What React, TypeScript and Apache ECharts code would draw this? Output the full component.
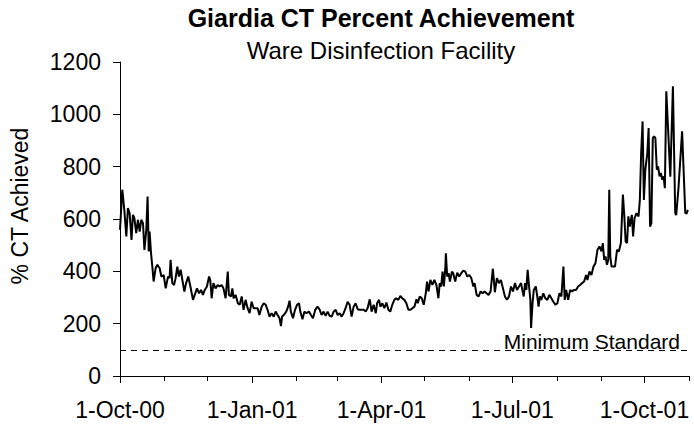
import React, { useEffect, useRef } from "react";
import * as echarts from "echarts";

// Days since 1-Oct-00 and % CT achieved
const dayOffsets = [
  0, 1.6, 3, 4.4, 5.5, 6.7, 8, 9, 10, 11.3, 12.5, 13.7, 14.8, 16, 17, 18.3, 19.2, 20, 20.6, 21.6,
  22.5, 23.4, 24.8, 26, 27.6, 28.8, 30.4, 31.8, 33.4, 34.5, 35.2, 36.4, 37.6, 38.7, 39.9, 41, 42.2, 43.4, 44.8, 46,
  47.5, 49, 50.8, 52, 53.6, 55, 56.4, 57.7, 59, 60.5, 62, 62.8, 63.8, 65, 66.5, 68, 69.3, 70.7, 72, 73.5,
  75, 75.8, 77.2, 78.2, 79, 80.5, 82, 83.3, 84.7, 86, 87.4, 88.8, 90.2, 91.6, 93, 94.4, 95.8, 97, 98.6, 100,
  101.4, 102.7, 104, 105.5, 107, 108.3, 109.7, 111, 112, 112.8, 114, 115.7, 117, 118, 118.9, 120.4, 121.8, 123.2, 124.6, 125.5,
  127, 128.3, 129.7, 131.5, 132.9, 134.3, 135.9, 137.5, 139, 140.3, 141.7, 143.1, 144.5, 145.9, 147.3, 148.7, 150.1, 151.5, 152.8, 154.3,
  155.6, 157, 158.4, 159.8, 161.2, 162.6, 164, 165.4, 166.8, 168.2, 169.6, 171, 172.3, 173.8, 175.1, 176.5, 178, 178.9, 180.3, 181.2,
  182.6, 184, 185.4, 186.8, 188.1, 189.5, 190.9, 192.3, 193.7, 195.1, 196.5, 197.9, 199.3, 200.7, 202.1, 203.5, 204.9, 206.3, 207.2, 208.6,
  210, 211.4, 212.8, 213.7, 214.7, 216, 217.4, 218.8, 220.2, 221.6, 222.5, 223.5, 224.5, 225.4, 226.4, 226.8, 227.7, 228.7, 229.6, 231,
  231.9, 233.3, 234.7, 236.1, 237.5, 238.9, 240.3, 241.7, 243.1, 244.5, 245.9, 246.8, 248.2, 249.6, 251, 252.4, 253.7, 255.1, 256.5, 257.9,
  259.5, 260.9, 262.3, 263.7, 265.1, 266.5, 267.9, 269.3, 270.7, 272.1, 273.5, 274.9, 276.3, 277.7, 279.1, 280, 281, 281.9, 282.8, 283.7,
  284.7, 285.6, 286.1, 287.1, 288, 289.4, 290.4, 291.3, 292.2, 293.2, 294.6, 296, 297.4, 298.8, 300.2, 301.6, 303, 304.4, 305.8, 307.2,
  308.6, 309.5, 310.5, 311.9, 313.3, 314.6, 316, 317.4, 318.8, 320.2, 321.6, 323, 324.4, 325.3, 326.7, 328.1, 329.5, 330.9, 332.3, 333.7,
  335.1, 336, 337, 337.9, 338.9, 339.8, 340.5, 341.2, 342.1, 343.1, 344.5, 345.9, 347.2, 348.6, 350, 351, 351.9, 352.9, 353.8, 354.8,
  356.2, 357.1, 358.1, 359.5, 360.9, 361.8, 362.7, 363.7, 364.6, 365.6, 367, 367.9, 368.9, 369.8, 370.8, 371.7, 372.6, 373.6, 374.5, 375.5,
  376.4, 377.4, 378.3, 379.2, 380.2, 383, 384.8, 386.4, 387.1, 388.7, 391.2, 393.4, 394.3, 395.2,
];

const pctAchieved = [
  559, 712, 635, 533, 642, 622, 520, 616, 603, 546, 597, 552, 597, 584, 482, 559, 686, 476, 552, 469,
  418, 361, 412, 425, 412, 380, 386, 335, 380, 374, 444, 355, 348, 374, 418, 380, 406, 367, 323, 355,
  380, 342, 291, 310, 335, 316, 329, 310, 329, 342, 380, 367, 297, 355, 335, 348, 342, 348, 335, 297,
  399, 310, 304, 335, 297, 310, 278, 272, 304, 253, 291, 259, 240, 284, 259, 259, 259, 233, 265, 278,
  272, 253, 227, 240, 227, 246, 233, 221, 191, 227, 233, 246, 265, 288, 246, 221, 253, 272, 278, 246,
  217, 246, 240, 246, 233, 221, 253, 265, 253, 233, 246, 230, 246, 230, 227, 246, 253, 233, 240, 227,
  240, 259, 284, 272, 227, 265, 278, 255, 253, 253, 253, 246, 259, 293, 246, 272, 240, 278, 291, 265,
  278, 259, 281, 253, 246, 272, 291, 297, 291, 306, 297, 291, 278, 253, 253, 259, 265, 293, 278, 304,
  297, 272, 316, 361, 323, 367, 348, 367, 348, 297, 355, 342, 399, 342, 412, 469, 380, 393, 361, 399,
  393, 361, 395, 380, 393, 403, 399, 380, 386, 374, 342, 355, 310, 304, 323, 316, 323, 316, 310, 323,
  410, 320, 374, 355, 367, 335, 304, 291, 304, 342, 323, 355, 329, 342, 355, 329, 304, 355, 329, 406,
  342, 291, 184, 278, 329, 342, 304, 265, 304, 291, 316, 297, 291, 310, 297, 284, 272, 278, 316, 304,
  418, 291, 329, 291, 329, 323, 329, 329, 342, 348, 355, 361, 386, 367, 399, 386, 418, 431, 482, 495,
  476, 508, 444, 457, 425, 444, 712, 457, 418, 418, 418, 482, 476, 508, 693, 610, 514, 508, 610, 571,
  616, 533, 603, 622, 610, 673, 852, 973, 673, 788, 852, 948, 571, 584, 909, 916, 909, 788, 801, 763,
  776, 750, 763, 718, 1088, 762, 1107, 623, 615, 720, 935, 623, 620, 635,
];

const axisStart = "2000-10-01";
const axisEnd = "2001-11-01";
const monthTickDates = [
  "2000-10-01", "2000-11-01", "2000-12-01", "2001-01-01", "2001-02-01", "2001-03-01", "2001-04-01",
  "2001-05-01", "2001-06-01", "2001-07-01", "2001-08-01", "2001-09-01", "2001-10-01", "2001-11-01",
];
const labelTickDates = ["2000-10-01", "2001-01-01", "2001-04-01", "2001-07-01", "2001-10-01"];
const tickLabels = ["1-Oct-00", "1-Jan-01", "1-Apr-01", "1-Jul-01", "1-Oct-01"];
const yTicks = [0, 200, 400, 600, 800, 1000, 1200];
const minimumStandard = 100;

const FONT = "'Liberation Sans', Arial, sans-serif";
const DAY = 86400000;

export default function App() {
  const ref = useRef<HTMLDivElement>(null);

  useEffect(() => {
    if (!ref.current) return;
    const chart = echarts.init(ref.current, null, { renderer: "svg" });
    const start = Date.parse(axisStart);
    const end = Date.parse(axisEnd);
    const seriesData = dayOffsets.map((d, i) => [start + d * DAY, pctAchieved[i]]);
    const monthTicks = monthTickDates.map((s) => Date.parse(s));
    const labelTicks = labelTickDates.map((s) => Date.parse(s));
    const labelMap: Record<string, string> = {};
    labelTicks.forEach((t, i) => (labelMap[String(t)] = tickLabels[i]));

    chart.setOption({
      animation: false,
      backgroundColor: "#fff",
      title: [
        {
          text: "Giardia CT Percent Achievement",
          left: 381,
          top: 5,
          padding: 0,
          textAlign: "center",
          textStyle: { fontFamily: FONT, fontSize: 25, fontWeight: "bold", color: "#000" },
        },
        {
          text: "Ware Disinfection Facility",
          left: 381,
          top: 38,
          padding: 0,
          textAlign: "center",
          textStyle: { fontFamily: FONT, fontSize: 24, fontWeight: "normal", color: "#000" },
        },
      ],
      grid: { left: 120, right: 5, top: 62, bottom: 50, containLabel: false },
      xAxis: [
        {
          type: "value",
          min: start,
          max: end,
          scale: true,
          axisLine: { show: true, onZero: false, lineStyle: { color: "#000", width: 1 } },
          axisTick: { show: true, inside: false, length: 5, customValues: monthTicks, lineStyle: { color: "#000" } },
          axisLabel: {
            show: true,
            customValues: labelTicks,
            margin: 22,
            fontFamily: FONT,
            fontSize: 23,
            color: "#000",
            hideOverlap: false,
            formatter: (v: number) => labelMap[String(v)] ?? "",
          },
          splitLine: { show: false },
        },
        {
          type: "value",
          min: start,
          max: end,
          scale: true,
          position: "bottom",
          axisLine: { show: false, onZero: false },
          axisTick: { show: true, inside: false, length: 7, customValues: labelTicks, lineStyle: { color: "#000" } },
          axisLabel: { show: false },
          splitLine: { show: false },
        },
      ],
      yAxis: {
        type: "value",
        min: yTicks[0],
        max: yTicks[yTicks.length - 1],
        interval: 200,
        axisLine: { show: true, lineStyle: { color: "#000", width: 1 } },
        axisTick: { show: true, inside: false, length: 7, lineStyle: { color: "#000" } },
        axisLabel: {
          margin: 19,
          fontFamily: FONT,
          fontSize: 23,
          color: "#000",
          formatter: (v: number) => String(v),
        },
        splitLine: { show: false },
      },
      series: [
        {
          type: "line",
          xAxisIndex: 0,
          data: seriesData,
          showSymbol: false,
          symbol: "none",
          lineStyle: { color: "#000", width: 2 },
          markLine: {
            silent: true,
            symbol: ["none", "none"],
            label: { show: false },
            lineStyle: { color: "#000", width: 1, type: [6, 5] },
            data: [{ yAxis: minimumStandard }],
          },
        },
      ],
      graphic: [
        {
          type: "text",
          x: 20,
          y: 206,
          rotation: Math.PI / 2,
          style: {
            text: "% CT Achieved",
            fontFamily: FONT,
            fontSize: 23,
            fill: "#000",
            textAlign: "center",
            textVerticalAlign: "middle",
          },
        },
        {
          type: "text",
          x: 680,
          y: 341,
          style: {
            text: "Minimum Standard",
            fontFamily: FONT,
            fontSize: 21,
            fill: "#000",
            textAlign: "right",
            textVerticalAlign: "middle",
          },
        },
      ],
    });
    return () => chart.dispose();
  }, []);

  return (
    <div
      ref={ref}
      style={{ position: "fixed", left: 0, top: 0, width: 694, height: 426, background: "#fff" }}
    />
  );
}
